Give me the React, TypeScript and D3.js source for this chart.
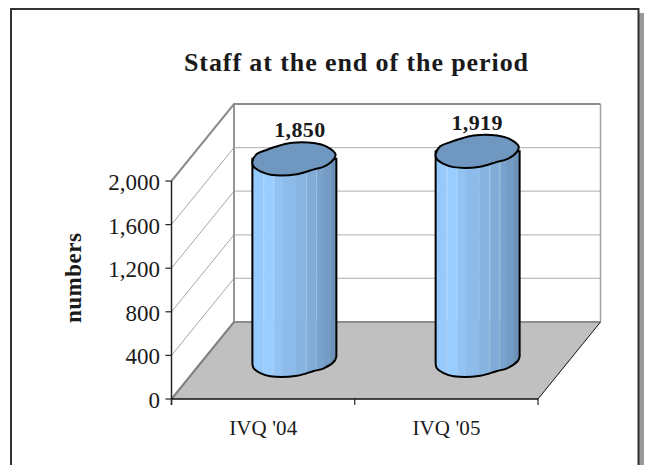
import React from "react";
import * as d3 from "d3";

const categories = ["IVQ '04", "IVQ '05"];
const values = [1850, 1919];
const valueLabels = ["1,850", "1,919"];
const yTicks = [0, 400, 800, 1200, 1600, 2000];
const yTickLabels = ["0", "400", "800", "1,200", "1,600", "2,000"];

// wobbly cap outline, as fractions of the cylinder's half-width (x) and half-depth (y)
const capOutline: [number, number][] = [
  [-1, 0.2], [-0.89, -0.3], [-0.65, -0.56], [-0.45, -0.74], [-0.1, -0.98], [0.46, -0.98],
  [0.78, -0.74], [0.98, -0.28], [0.93, 0.06], [0.7, 0.5], [0.46, 0.67], [0.06, 0.97],
  [-0.57, 1], [-0.81, 0.8], [-0.97, 0.5],
];
const capFront: [number, number][] = [
  [-1, 0.2], [-0.97, 0.5], [-0.81, 0.8], [-0.57, 1], [0.06, 0.97], [0.46, 0.67], [0.7, 0.5], [0.95, 0.06], [1, -0.24],
];
const stripEdges = [0, 0.13, 0.14, 0.25, 0.26, 0.36, 0.52, 0.64, 0.65, 0.76, 0.77, 0.85, 0.93, 1];
const stripColors = ["#96C9FC", "#AAD4FE", "#99CCFF", "#A8D2FB", "#92C3F3", "#8DBCEB", "#87B4E1", "#9CC0E5", "#80ACD7", "#93B8DC", "#79A3CC", "#739BC3", "#6C92B7"];

const W = 647, H = 465;
const left = 171.5, right = 538, floorY = 399, topY = 181;
const depthX = 62.5, depthY = 77;
const halfWidth = 42, halfDepth = 16;

const x = d3.scaleBand<string>().domain(categories).range([left, right]);
const y = d3.scaleLinear().domain([0, 2000]).range([floorY, topY]);
const serif = "'Liberation Serif', serif";
const ink = "#1a1a1a";

function Cylinder({ cx, value }: { cx: number; value: number }) {
  const baseY = y(0) - depthY / 2 - 0.2;
  const topC = baseY - (y(0) - y(value));
  const line = d3.line<[number, number]>().curve(d3.curveCatmullRom.alpha(0.5));
  const closed = d3.line<[number, number]>().curve(d3.curveCatmullRomClosed.alpha(0.5));
  const place = (cy: number) => (p: [number, number]): [number, number] => [cx + p[0] * halfWidth, cy + p[1] * halfDepth];
  const front = line(capFront.map(place(baseY)))!;
  const body = `M${cx - halfWidth},${topC}L${cx - halfWidth},${baseY + 0.2 * halfDepth}` + front.replace(/^M[^C]*/, "") + `L${cx + halfWidth},${topC}Z`;
  const clipId = `c${Math.round(cx)}`;
  const sx = d3.scaleLinear().domain([0, 1]).range([cx - halfWidth, cx + halfWidth]);
  return (
    <g>
      <clipPath id={clipId}><path d={body} /></clipPath>
      <g clipPath={`url(#${clipId})`}>
        {stripColors.map((c, i) => (
          <rect key={i} x={sx(stripEdges[i])} width={sx(stripEdges[i + 1]) - sx(stripEdges[i]) + 0.3} y={topC - 20} height={baseY - topC + 50} fill={c} />
        ))}
      </g>
      <path d={body} fill="none" stroke="#000" strokeWidth={2} />
      <path d={closed(capOutline.map(place(topC)))!} fill="#6F97BF" stroke="#000" strokeWidth={2} />
    </g>
  );
}

export default function App() {
  const centers = categories.map((c) => x(c)! + x.bandwidth() / 2);
  const labelDx = [36.5, 30.5];
  const labelBaseline = [137, 130];
  return (
    <svg width={W} height={H} style={{ position: "absolute", left: 0, top: 0, background: "#fff" }} fontFamily={serif}>
      <rect x={639} y={13} width={5} height={H - 13} fill="#999" />
      <path d={`M11,${H}V9H638.5V${H}`} fill="none" stroke="#333" strokeWidth={2} />

      <text x={356} y={70.5} textAnchor="middle" fontSize={26} fontWeight="bold" fill={ink} textLength={344} lengthAdjust="spacing">Staff at the end of the period</text>

      {/* floor */}
      <path d={`M${left},${floorY}L${left + depthX},${floorY - depthY}H${right + depthX}L${right},${floorY}Z`} fill="#C0C0C0" />
      {/* gridlines */}
      {yTicks.slice(1, -1).map((t) => (
        <g key={t}>
          <line x1={left} y1={y(t)} x2={left + depthX} y2={y(t) - depthY} stroke="#a6a6a6" strokeWidth={1} />
          <line x1={left + depthX} y1={y(t) - depthY} x2={right + depthX} y2={y(t) - depthY} stroke="#bdbdbd" strokeWidth={1.2} />
        </g>
      ))}
      {/* walls */}
      <path d={`M${left},${y(2000)}L${left + depthX},${y(2000) - depthY}H${right + depthX}`} fill="none" stroke="#8c8c8c" strokeWidth={2} />
      <path d={`M${right + depthX},${y(2000) - depthY}V${floorY - depthY}`} fill="none" stroke="#a0a0a0" strokeWidth={1.5} />
      <path d={`M${left + depthX},${y(2000) - depthY}V${floorY - depthY}H${right + depthX}`} fill="none" stroke="#8c8c8c" strokeWidth={1.8} />
      <line x1={left} y1={floorY} x2={left + depthX} y2={floorY - depthY} stroke="#808080" strokeWidth={2} />
      <line x1={right} y1={floorY} x2={right + depthX} y2={floorY - depthY} stroke="#111" strokeWidth={1} />

      {values.map((v, i) => (
        <Cylinder key={i} cx={centers[i] + depthX / 2} value={v} />
      ))}
      {values.map((v, i) => (
        <text key={i} x={centers[i] + labelDx[i]} y={labelBaseline[i]} textAnchor="middle" fontSize={22} fontWeight="bold" fill={ink} textLength={51} lengthAdjust="spacing">{valueLabels[i]}</text>
      ))}

      {/* axes */}
      <line x1={left} y1={y(2000)} x2={left} y2={floorY + 6} stroke="#222" strokeWidth={1.5} />
      <line x1={left} y1={floorY} x2={right} y2={floorY} stroke="#111" strokeWidth={1.5} />
      {yTicks.map((t, i) => (
        <g key={t}>
          <line x1={left - 6} y1={y(t)} x2={left} y2={y(t)} stroke="#222" strokeWidth={1.2} />
          <text x={160} y={y(t) + 9} textAnchor="end" fontSize={23} fill={ink}>{yTickLabels[i]}</text>
        </g>
      ))}
      {[left, left + x.bandwidth(), right].map((px) => (
        <line key={px} x1={px} y1={floorY} x2={px} y2={floorY + 6} stroke="#222" strokeWidth={1.2} />
      ))}
      {categories.map((c, i) => (
        <text key={c} x={centers[i]} y={435} textAnchor="middle" fontSize={21} fill={ink} textLength={68} lengthAdjust="spacing">{c}</text>
      ))}
      <text transform="translate(81,278) rotate(-90)" textAnchor="middle" fontSize={23} fontWeight="bold" fill={ink} textLength={90} lengthAdjust="spacing">numbers</text>
    </svg>
  );
}
